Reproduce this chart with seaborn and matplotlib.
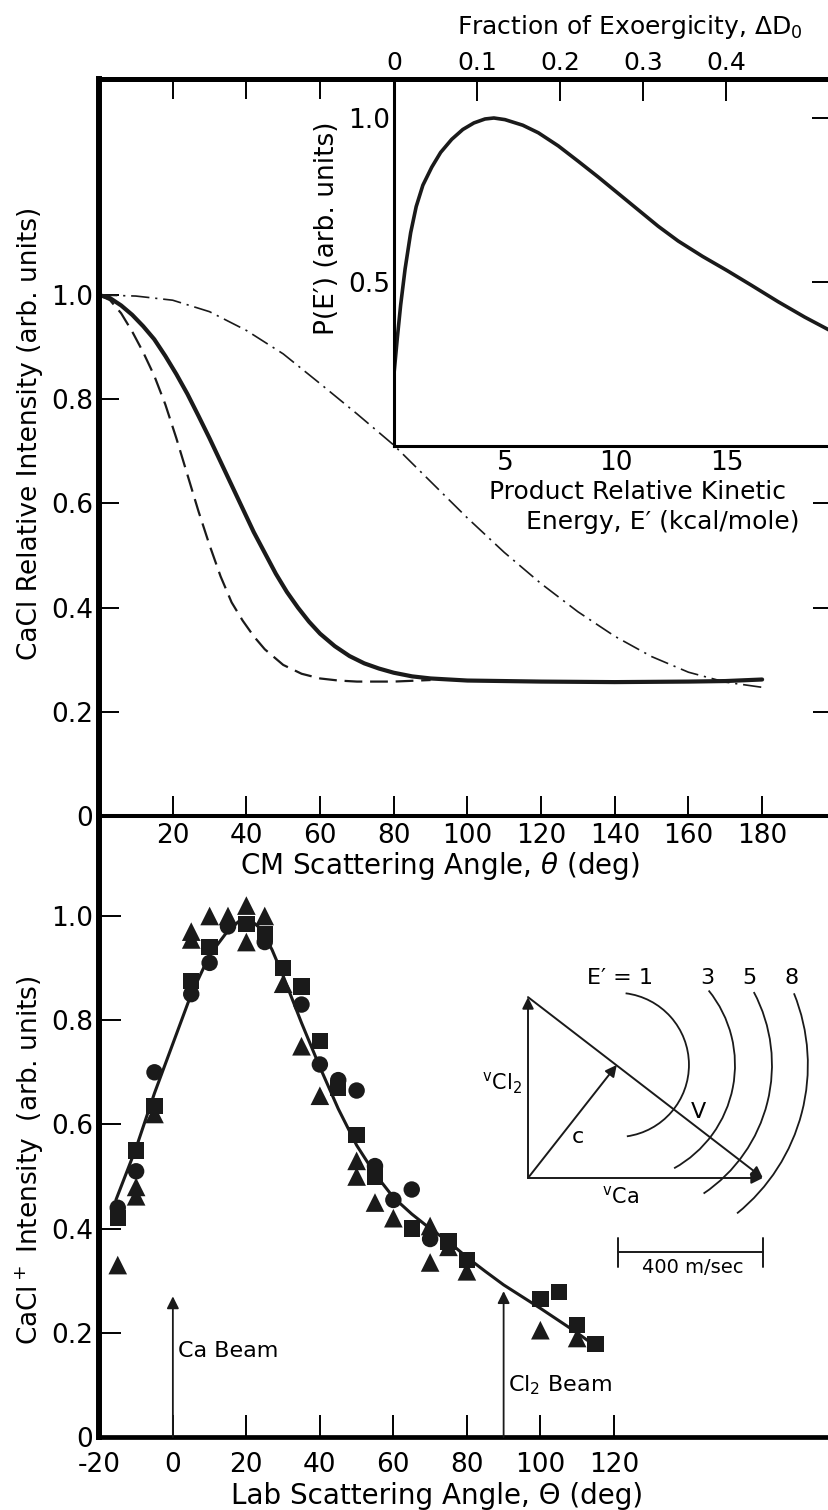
import numpy as np
import pandas as pd
import matplotlib
matplotlib.use("Agg")
import matplotlib.pyplot as plt
import seaborn as sns
from matplotlib.patches import Arc

# ---------------- data ----------------
# Top panel: CM angular distributions
cm_solid_angle = [0, 3, 6, 9, 12, 15, 18, 21, 24, 27, 30, 33, 36, 39, 42, 45, 48, 51, 54, 57, 60, 64, 68, 72,
                  76, 80, 85, 90, 100, 120, 140, 160, 170, 180]
cm_solid = [1.0, 0.994, 0.98, 0.962, 0.94, 0.915, 0.883, 0.848, 0.81, 0.768, 0.725, 0.68, 0.635, 0.59, 0.545,
            0.505, 0.465, 0.43, 0.40, 0.373, 0.35, 0.326, 0.307, 0.293, 0.283, 0.275, 0.268, 0.264, 0.26,
            0.258, 0.257, 0.258, 0.259, 0.262]
cm_dash_angle = [0, 3, 6, 9, 12, 15, 18, 21, 24, 27, 30, 33, 36, 39, 42, 45, 50, 55, 60, 65, 70, 80, 90]
cm_dash = [1.0, 0.99, 0.965, 0.93, 0.89, 0.845, 0.79, 0.725, 0.655, 0.585, 0.52, 0.46, 0.41, 0.375, 0.345,
           0.32, 0.29, 0.273, 0.264, 0.26, 0.258, 0.258, 0.261]
cm_dd_angle = [0, 10, 20, 30, 40, 50, 60, 70, 80, 90, 100, 110, 120, 130, 140, 150, 160, 170, 180]
cm_dd = [1.0, 0.998, 0.99, 0.968, 0.932, 0.887, 0.83, 0.772, 0.712, 0.642, 0.572, 0.506, 0.446, 0.392, 0.345,
         0.306, 0.276, 0.257, 0.247]

# Inset: product kinetic energy distribution
pe_energy = [0, 0.15, 0.3, 0.5, 0.75, 1.0, 1.3, 1.7, 2.1, 2.6, 3.1, 3.6, 4.1, 4.5, 5.0, 5.8, 6.5, 7.4, 8.3,
             9.2, 10.1, 11.0, 11.9, 12.8, 13.9, 15.0, 16.1, 17.3, 18.5, 19.7]
pe_prob = [0.22, 0.33, 0.43, 0.54, 0.65, 0.73, 0.795, 0.85, 0.895, 0.935, 0.965, 0.985, 0.997, 1.0, 0.995,
           0.978, 0.955, 0.915, 0.868, 0.82, 0.77, 0.72, 0.67, 0.625, 0.578, 0.535, 0.49, 0.44, 0.393, 0.35]
exoergicity = 37.4  # kcal/mole, maps E' to fraction
frac_ticks = [0, 0.1, 0.2, 0.3, 0.4]
frac_labels = ["0", "0.1", "0.2", "0.3", "0.4"]

# Bottom panel: lab angular distribution
circ_angle = [-15, -10, -5, 5, 10, 15, 25, 35, 40, 45, 50, 55, 60, 65, 70]
circ_val = [0.44, 0.51, 0.70, 0.85, 0.91, 0.98, 0.95, 0.83, 0.715, 0.685, 0.665, 0.52, 0.455, 0.475, 0.38]
sq_angle = [-15, -10, -5, 5, 10, 20, 25, 30, 35, 40, 45, 50, 55, 65, 75, 80, 100, 105, 110, 115]
sq_val = [0.42, 0.55, 0.635, 0.875, 0.94, 0.985, 0.965, 0.90, 0.865, 0.76, 0.67, 0.58, 0.50, 0.40, 0.375,
          0.34, 0.265, 0.278, 0.215, 0.178]
tri_angle = [-15, -10, -10, -5, 5, 5, 10, 15, 20, 20, 25, 30, 35, 40, 50, 50, 55, 60, 70, 70, 75, 80, 100, 110]
tri_val = [0.33, 0.48, 0.462, 0.62, 0.955, 0.97, 1.0, 1.0, 1.02, 0.95, 1.0, 0.87, 0.75, 0.655, 0.53, 0.50,
           0.45, 0.42, 0.405, 0.335, 0.365, 0.318, 0.205, 0.19]
fit_angle = [-15.5, -10, -5, 0, 5, 10, 15, 18, 21, 24, 27, 30, 35, 40, 45, 50, 55, 60, 65, 70, 75, 80, 85, 90,
             100, 110, 113.5]
fit_val = [0.455, 0.555, 0.66, 0.755, 0.85, 0.925, 0.972, 0.99, 0.993, 0.975, 0.935, 0.885, 0.795, 0.71, 0.63,
           0.56, 0.505, 0.46, 0.428, 0.40, 0.375, 0.345, 0.318, 0.292, 0.247, 0.20, 0.182]
beam_angle = [0, 90]
beam_tip = [0.27, 0.28]
beam_label = ["Ca Beam", "Cl$_2$ Beam"]
beam_label_pos = [(1.5, 0.165), (91.2, 0.10)]

# Newton diagram (m/sec)
v_ca = 648
v_cl2 = 499
cm_point = (245, 312)
newton_E = ["E\u2032 = 1", "3", "5", "8"]
newton_r = [199, 326, 428, 527]
newton_span = [(-82, 83), (-61, 39), (-56, 28), (-51, 22)]
newton_label_x = [254, 494, 612, 728]
scale_bar = 400

# ---------------- figure ----------------
W, H = 829, 1510
sns.set_theme(style="white")
plt.rcParams.update({
    "font.family": ["DejaVu Sans"],
    "axes.edgecolor": "black", "text.color": "black",
    "xtick.color": "black", "ytick.color": "black",
    "axes.facecolor": "white", "figure.facecolor": "white",
})

fig = plt.figure(figsize=(W / 100, H / 100), dpi=100)


def rect(l, t, r, b):
    return [l / W, 1 - b / H, (r - l) / W, (b - t) / H]


def ftext(x, y, s, **kw):
    kw.setdefault("ha", "center")
    kw.setdefault("va", "center")
    fig.text(x / W, 1 - y / H, s, **kw)


ax_bot = fig.add_axes(rect(99, 816, 833, 1437))
ax_top = fig.add_axes(rect(99, 79, 833, 816))
ax_in = fig.add_axes(rect(394, 79, 833, 446))
ax_nw = fig.add_axes(rect(470, 950, 829, 1290))
ax_bot.patch.set_alpha(0)
ax_nw.patch.set_alpha(0)

# ---- top panel ----
sns.lineplot(x=cm_dd_angle, y=cm_dd, ax=ax_top, color="k", lw=1.2, estimator=None, sort=False)
ax_top.lines[-1].set_dashes([11, 3.5, 1.3, 3.5])
sns.lineplot(x=cm_dash_angle, y=cm_dash, ax=ax_top, color="k", lw=1.6, estimator=None, sort=False)
ax_top.lines[-1].set_dashes([8, 3.5])
sns.lineplot(x=cm_solid_angle, y=cm_solid, ax=ax_top, color="k", lw=3.0, estimator=None, sort=False)

ax_top.set_xlim(0, (833 - 99) / 3.684)
ax_top.set_ylim(0, (816 - 79) / 521)
ax_top.set_xticks([20, 40, 60, 80, 100, 120, 140, 160, 180])
ax_top.set_xticklabels(["20", "40", "60", "80", "100", "120", "140", "160", "180"])
ax_top.set_yticks([0, 0.2, 0.4, 0.6, 0.8, 1.0])
ax_top.set_yticklabels(["0", "0.2", "0.4", "0.6", "0.8", "1.0"])
ax_top.tick_params(axis="both", direction="in", length=14.5, width=1.4, labelsize=19, pad=4,
                   top=True, right=True, labeltop=False, labelright=False, bottom=True, left=True)
ax_top.tick_params(axis="x", pad=5)
ax_top.spines["left"].set_linewidth(4.3)
ax_top.spines["top"].set_linewidth(3.6)
ax_top.spines["bottom"].set_linewidth(2.9)
ax_top.spines["right"].set_linewidth(2.9)
ax_top.set_xlabel("")
ax_top.set_ylabel("")

# ---- inset ----
sns.lineplot(x=pe_energy, y=pe_prob, ax=ax_in, color="k", lw=2.6, estimator=None, sort=False)
ax_in.set_xlim(0, (833 - 394) / 22.2)
ax_in.set_ylim(0, (446 - 79) / 328)
ax_in.set_xticks([5, 10, 15])
ax_in.set_xticklabels(["5", "10", "15"])
ax_in.set_yticks([0.5, 1.0])
ax_in.set_yticklabels(["0.5", "1.0"])
ax_in.tick_params(axis="both", direction="in", length=15, width=1.4, labelsize=19, pad=3,
                  right=True, labelright=False, top=False)
for s in ["left", "bottom", "right"]:
    ax_in.spines[s].set_linewidth(2.2)
ax_in.spines["top"].set_linewidth(3.6)
ax_in.set_xlabel("")
ax_in.set_ylabel("")
sec = ax_in.secondary_xaxis("top", functions=(lambda e: e / exoergicity, lambda f: f * exoergicity))
sec.set_xticks(frac_ticks)
sec.set_xticklabels(frac_labels)
sec.tick_params(direction="in", length=16, width=1.4, labelsize=18, pad=3)
sec.spines["top"].set_linewidth(3.6)

# ---- bottom panel ----
sns.lineplot(x=fit_angle, y=fit_val, ax=ax_bot, color="k", lw=2.2, estimator=None, sort=False)
sns.scatterplot(x=sq_angle, y=sq_val, ax=ax_bot, marker="s", s=140, color="k", edgecolor="none", zorder=3)
sns.scatterplot(x=circ_angle, y=circ_val, ax=ax_bot, marker="o", s=140, color="k", edgecolor="none", zorder=3)
sns.scatterplot(x=tri_angle, y=tri_val, ax=ax_bot, marker="^", s=180, color="k", edgecolor="none", zorder=3)
for a, tip, lab, (lx, ly) in zip(beam_angle, beam_tip, beam_label, beam_label_pos):
    ax_bot.annotate("", xy=(a, tip), xytext=(a, 0),
                    arrowprops=dict(arrowstyle="-|>", color="k", lw=1.3, mutation_scale=18,
                                    shrinkA=0, shrinkB=0))
    ax_bot.text(lx, ly, lab, fontsize=16, ha="left", va="center")

ax_bot.set_xlim(-20.1, -20.1 + (833 - 99) / 3.675)
ax_bot.set_ylim(0, (1437 - 816) / 521)
ax_bot.set_xticks([-20, 0, 20, 40, 60, 80, 100, 120])
ax_bot.set_xticklabels(["-20", "0", "20", "40", "60", "80", "100", "120"])
ax_bot.set_yticks([0, 0.2, 0.4, 0.6, 0.8, 1.0])
ax_bot.set_yticklabels(["0", "0.2", "0.4", "0.6", "0.8", "1.0"])
ax_bot.tick_params(axis="both", direction="in", length=16, width=1.4, labelsize=19, pad=4,
                   top=False, right=False, bottom=True, left=True)
ax_bot.tick_params(axis="x", pad=11)
ax_bot.spines["top"].set_visible(False)
ax_bot.spines["right"].set_visible(False)
ax_bot.spines["left"].set_linewidth(4.3)
ax_bot.spines["bottom"].set_linewidth(3.4)
ax_bot.set_xlabel("")
ax_bot.set_ylabel("")

# ---- Newton diagram ----
ax_nw.set_xlim((470 - 528) / 0.3625, (829 - 528) / 0.3625)
ax_nw.set_ylim((1178 - 1290) / 0.3625, (1178 - 950) / 0.3625)
ax_nw.axis("off")
ap = dict(arrowstyle="-|>", color="k", lw=1.4, mutation_scale=17, shrinkA=0, shrinkB=0)
ax_nw.annotate("", xy=(0, v_cl2), xytext=(0, 0), arrowprops=ap)
ax_nw.annotate("", xy=(v_ca, 0), xytext=(0, 0), arrowprops=ap)
ax_nw.annotate("", xy=(v_ca, 0), xytext=(0, v_cl2), arrowprops=ap)
ax_nw.annotate("", xy=cm_point, xytext=(0, 0), arrowprops=ap)
for lab, r, (t1, t2), lx in zip(newton_E, newton_r, newton_span, newton_label_x):
    ax_nw.add_patch(Arc(cm_point, 2 * r, 2 * r, theta1=t1, theta2=t2, color="k", lw=1.3))
    ax_nw.text(lx, 552, lab, fontsize=16, ha="center", va="center")
ax_nw.text(-72, 262, r"$^{\mathrm{v}}$Cl$_2$", fontsize=15, ha="center", va="center")
ax_nw.text(138, 113, "c", fontsize=16, ha="center", va="center")
ax_nw.text(469, 182, "V", fontsize=16, ha="center", va="center")
ax_nw.text(254, -52, r"$^{\mathrm{v}}$Ca", fontsize=15, ha="center", va="center")
sb_x0 = 248
ax_nw.plot([sb_x0, sb_x0 + scale_bar], [-204, -204], color="k", lw=1.4)
ax_nw.plot([sb_x0, sb_x0], [-166, -246], color="k", lw=1.4)
ax_nw.plot([sb_x0 + scale_bar, sb_x0 + scale_bar], [-166, -246], color="k", lw=1.4)
ax_nw.text(sb_x0 + scale_bar / 2 + 7, -247, "400 m/sec", fontsize=14, ha="center", va="center")

# ---- free text ----
ftext(630, 27, "Fraction of Exoergicity, \u0394D$_0$", fontsize=18)
ftext(30, 433, "CaCl Relative Intensity (arb. units)", rotation=90, fontsize=19)
ftext(327, 228, "P(E\u2032) (arb. units)", rotation=90, fontsize=19)
ftext(786, 492, "Product Relative Kinetic", fontsize=18, ha="right")
ftext(800, 522, "Energy, E\u2032 (kcal/mole)", fontsize=18, ha="right")
ftext(440, 866, r"CM Scattering Angle, $\theta$ (deg)", fontsize=20)
ftext(30, 1160, "CaCl$^+$ Intensity  (arb. units)", rotation=90, fontsize=19)
ftext(437, 1496, "Lab Scattering Angle, \u0398 (deg)", fontsize=20)

fig.savefig("out.png", dpi=100)
